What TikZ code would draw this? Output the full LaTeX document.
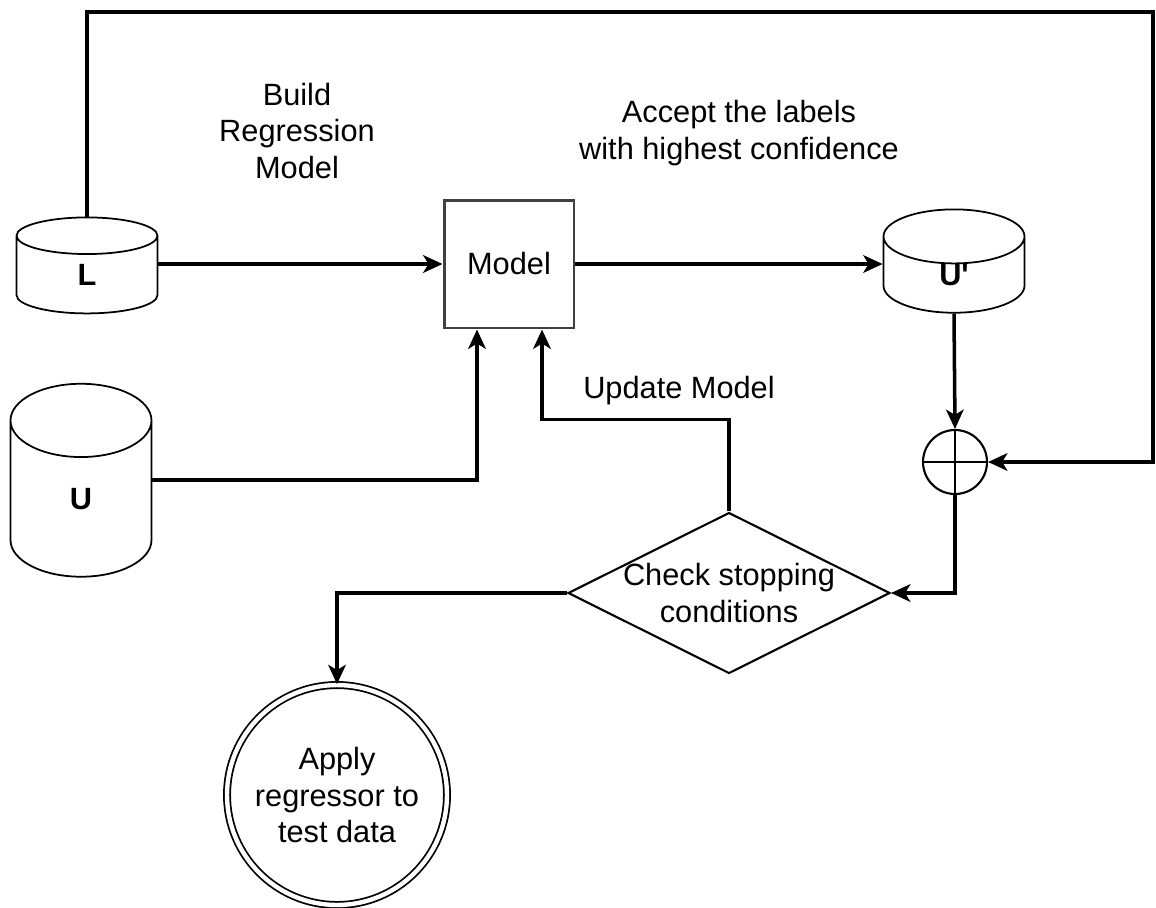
\documentclass[tikz,border=0pt]{standalone}
\usepackage{fontspec}
\setmainfont{Liberation Sans}
\usetikzlibrary{shapes.geometric,arrows.meta,positioning}

\begin{document}
\begin{tikzpicture}[x=0.02cm,y=-0.02cm]
\tikzset{txt/.style = {font=\fontsize{17.5}{21}\selectfont, align=center}}
\tikzset{dbase/.style = {cylinder, shape border rotate=90, draw, line width=1pt,
    minimum width=2.82cm, inner sep=0pt, font=\fontsize{17.5}{21}\selectfont\bfseries}}
\tikzset{flow/.style = {line width=2pt, -{Stealth[length=11pt,width=10pt,inset=3pt]}}}
\useasboundingbox (0,0) rectangle (1156,907);

    \node[dbase, minimum height=1.92cm, aspect=1.95] (L) at (87,275) {L};
    \node[dbase, minimum height=3.86cm, aspect=3.3] (U) at (81,499) {U};
    \node[dbase, minimum height=1.92cm, aspect=1.83] (Up) at (954,275) {U\textquotesingle};

    \node[draw=black!75, line width=1.7pt, minimum width=2.6cm, minimum height=2.56cm,
          txt] (model) at (509,264) {Model};

    \node[circle, draw, line width=1.2pt, minimum size=1.28cm, inner sep=0pt,
          path picture={\draw[line width=1.2pt]
            (path picture bounding box.north) -- (path picture bounding box.south)
            (path picture bounding box.west) -- (path picture bounding box.east);}]
          (plus) at (955,462) {};

    \node[diamond, draw, line width=1.2pt, minimum width=6.44cm, minimum height=3.22cm,
          inner sep=0pt, label={[txt]center:Check stopping\\conditions}]
          (check) at (729,593) {};

    \node[circle, draw, line width=1pt, double, double distance=2.5pt,
          minimum size=4.4cm, txt] (apply) at (337,795) {Apply\\regressor to\\test data};

    \node[txt] (build) at (297,131) {Build\\Regression\\Model};
    \node[txt] (accept) at (739,133) {Accept the labels\\with highest confidence};
    \node[txt] (update) at (679,391) {Update Model};

    \coordinate (corner) at (1153,12);

\draw[flow] (model.west -| L.east) -- (model.west);
\draw[flow] ([yshift=0.38cm]U.east) -| ([xshift=-0.64cm]model.south);
\draw[flow] (model.east) -- (model.east -| Up.west);
\draw[flow] (Up.south) -- (plus.north);
\draw[flow] (plus.south) |- (check.east);
\draw[flow] (L.north) |- (corner) |- (plus.east);
\draw[flow] (check.north) -- ++(0,-92) -| ([xshift=0.66cm]model.south);
\draw[flow] (check.west) -| (apply.north);
\end{tikzpicture}
\end{document}
